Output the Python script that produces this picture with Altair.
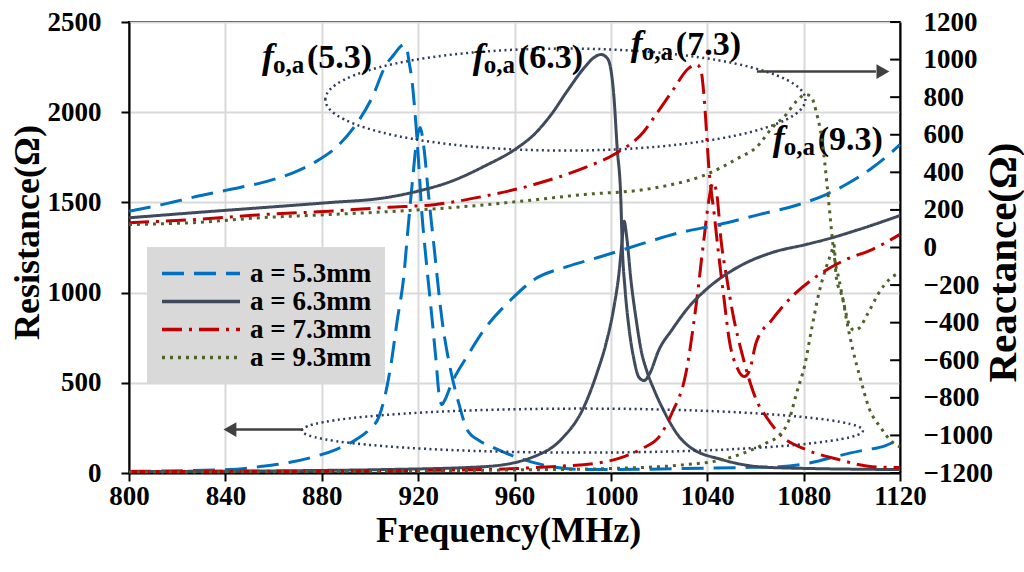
import altair as alt
import pandas as pd

# ---------------- data ----------------
series = ["a = 5.3mm", "a = 6.3mm", "a = 7.3mm", "a = 9.3mm"]
colors = ["#0070C0", "#3F4A5C", "#C00000", "#4F6228"]
dashes = [[22, 10], [1, 0], [20, 7, 3, 7], [3, 5]]

x_ticks = [800, 840, 880, 920, 960, 1000, 1040, 1080, 1120]
r_ticks = [0, 500, 1000, 1500, 2000, 2500]
x_ticks_right = [-1200, -1000, -800, -600, -400, -200, 0, 200, 400, 600, 800, 1000, 1200]

# Resistance curves
f_r_53 = [800, 841.5, 855.2, 866.4, 877.6, 885.9, 894.2, 899.6, 903.8, 905.9, 908.6, 911.2, 914.2, 915.4,
          917.5, 919.6, 920.8, 922.5, 924.1, 926.6, 929.9, 933.7, 937, 940.3, 945.3, 950.3, 961.1, 975.2,
          988.9, 1000.5, 1028, 1053, 1070, 1083.5, 1094.7, 1104, 1114, 1120]
r_53 = [9, 19, 37, 58, 93, 130, 185, 240, 314, 407, 591, 834, 1111, 1294,
        1598, 1859, 1915, 1792, 1571, 1255, 850, 557, 380, 241, 180, 147, 86, 36,
        19, 19, 24, 30, 35, 58, 96, 124, 152, 190]

f_r_63 = [800, 870.6, 905.9, 947.4, 968.1, 979.3, 988.9, 994.3, 998.4, 1001.3, 1003.4, 1004.7, 1005.5,
          1006.7, 1008.3, 1010.5, 1012.5, 1015, 1017.9, 1022.1, 1028.3, 1032.5, 1046.2, 1066.9, 1120]
r_63 = [8, 13, 19, 35, 91, 185, 369, 557, 739, 922, 1111, 1294, 1395,
        1294, 1072, 850, 684, 562, 462, 341, 202, 147, 74, 30, 19]

f_r_73 = [800, 905.9, 947.4, 975.2, 995.9, 1005.5, 1013.8, 1020, 1025.4, 1031.2, 1035.3, 1038.6, 1040.7,
          1042.4, 1044, 1045.7, 1048.2, 1051.1, 1054, 1057.4, 1060.3, 1064.4, 1071.1, 1081, 1094.7, 1108.4, 1120]
r_73 = [8, 13, 19, 35, 58, 91, 141, 200, 334, 557, 923, 1294, 1515,
        1610, 1543, 1294, 1072, 850, 684, 518, 407, 313, 202, 130, 74, 35, 30]

f_r_93 = [800, 900, 960, 1000, 1030, 1045, 1055, 1065, 1070, 1074, 1077, 1080.5, 1083.5, 1086.4, 1089.5,
          1091.5, 1092.6, 1093.5, 1096.3, 1097.8, 1100.4, 1103.3, 1107.4, 1111.6, 1117, 1120]
r_93 = [5, 10, 17, 25, 45, 70, 110, 170, 210, 296, 440, 600, 811, 1000, 1146,
        1222, 1266, 1090, 961, 850, 684, 536, 351, 259, 169, 145]

# Reactance curves
f_x_53 = [800, 813.7, 827.8, 841.5, 855.2, 869.3, 877.6, 885.9, 894.2, 900.9, 906.7, 910, 912.5, 914.2,
          915.4, 916.2, 917.5, 918.3, 919.1, 920.4, 921.6, 922.9, 925.4, 927.4, 928.7, 929.9, 931.2, 933.7,
          940.3, 947.4, 958.6, 968.1, 981.8, 996, 1011.7, 1028.3, 1044.9, 1061.5, 1078.1, 1089.3, 1097.6,
          1108.5, 1116.8, 1120]
x_53 = [193, 228, 271, 308, 345, 404, 457, 532, 654, 798, 973, 1027, 1068, 1080,
        1054, 990, 883, 777, 654, 415, 175, -11, -331, -597, -783, -836, -809, -729,
        -580, -437, -277, -171, -102, -48, 15, 78, 122, 175, 229, 282, 335,
        424, 510, 547]

f_x_63 = [800, 827.8, 855.2, 883, 905.9, 919.6, 933.7, 947.4, 961.1, 968.1, 975.2, 981.8, 988.9, 993,
          995.9, 998.4, 1000, 1001.3, 1002.6, 1004.1, 1004.7, 1005.9, 1007.6, 1009.6, 1011.7, 1013.8,
          1015.9, 1020, 1025.4, 1032.5, 1039.5, 1053.2, 1066.9, 1081, 1089.3, 1103, 1120]
x_63 = [158, 186, 212, 239, 264, 299, 352, 432, 530, 601, 707, 831, 956, 1011,
        1027, 1009, 947, 797, 532, 266, 16, -224, -437, -597, -692, -708,
        -676, -543, -437, -314, -224, -101, -27, 16, 43, 96, 170]

f_x_73 = [800, 827.8, 855.2, 883, 907.9, 926.6, 947.4, 968.1, 988.9, 1001.3, 1013.8, 1018.7, 1025.4,
          1032.5, 1035.8, 1037.5, 1038.7, 1040.8, 1042.9, 1044.5, 1047, 1049.1, 1052.4, 1055.3, 1057.4,
          1060.3, 1066.9, 1075.2, 1085.2, 1097.6, 1108.4, 1120]
x_73 = [132, 149, 175, 193, 214, 228, 273, 335, 424, 495, 619, 707, 831,
        956, 973, 936, 798, 404, 176, -11, -277, -490, -639, -687, -660,
        -506, -384, -261, -155, -64, -11, 70]

f_x_93 = [800, 827.8, 855.2, 883, 907.9, 933.7, 961.1, 988.9, 1013.8, 1025.4, 1039.5, 1053.2, 1060.3,
          1067, 1072.7, 1076.9, 1081, 1083.1, 1085.2, 1087.7, 1089.8, 1091.4, 1092.6, 1094.7, 1096.8,
          1098.9, 1101, 1103, 1106.4, 1111.3, 1115.5, 1120]
x_93 = [122, 133, 159, 175, 191, 212, 244, 282, 308, 335, 388, 478, 532,
        638, 707, 777, 814, 803, 724, 564, 325, 112, -37, -171, -304,
        -410, -440, -430, -357, -240, -171, -133]

# Annotations (data coordinates: frequency, resistance)
ann_freq = [855.2, 942.7, 1008.3, 1067.2]
ann_res = [2247, 2247, 2319, 1792]
ann_main = ["(5.3)", "(6.3)", "(7.3)", "(9.3)"]

ell_freq = [981.1, 988.2]
ell_res = [2070, 235]

arrow_start = [1060.6, 872.2]
arrow_end = [1110.0, 844.0]
arrow_res = [2225, 240.6]
head_freq = [1112.9, 841.9]
head_shape = ["triangle-right", "triangle-left"]

# ---------------- tables ----------------
def long_table(curves):
    rows = []
    for name, fs, vs in curves:
        for f, v in zip(fs, vs):
            rows.append({"series": name, "freq": f, "val": v})
    return pd.DataFrame(rows)

df_r = long_table([(series[0], f_r_53, r_53), (series[1], f_r_63, r_63),
                   (series[2], f_r_73, r_73), (series[3], f_r_93, r_93)])
df_x = long_table([(series[0], f_x_53, x_53), (series[1], f_x_63, x_63),
                   (series[2], f_x_73, x_73), (series[3], f_x_93, x_93)])
df_ann = pd.DataFrame({"freq": ann_freq, "val": ann_res, "main": ann_main,
                       "f": ["f"] * 4, "sub": ["o,a"] * 4})
df_arrow = pd.DataFrame({"freq": arrow_start, "f1": arrow_end, "val": arrow_res})
df_head = pd.DataFrame({"freq": head_freq, "val": arrow_res, "shape": head_shape})
df_rt = pd.DataFrame({"val": x_ticks_right, "freq": [1115.9] * len(x_ticks_right),
                      "f1": [1120] * len(x_ticks_right)})
df_ell_top = pd.DataFrame({"freq": [ell_freq[0]], "val": [ell_res[0]]})
df_ell_bot = pd.DataFrame({"freq": [ell_freq[1]], "val": [ell_res[1]]})

FONT = "Liberation Serif"
xscale = alt.Scale(domain=[800, 1120], nice=False, zero=False)
rscale = alt.Scale(domain=[0, 2500], nice=False, zero=False)
xrscale = alt.Scale(domain=[-1200, 1200], nice=False, zero=False)

lab = dict(labelFont=FONT, labelFontWeight="bold", labelFontSize=27, labelColor="black",
           titleFont=FONT, titleFontWeight="bold", titleColor="black",
           domainColor="black", domainWidth=2, tickColor="black", tickWidth=2, format="d")

x_axis = alt.Axis(values=x_ticks, title="Frequency(MHz)", tickSize=8, labelPadding=2,
                  grid=True, gridColor="#D9D9D9", gridWidth=2, titleX=379, titleY=68, titleFontSize=36,
                  titleBaseline="alphabetic", titleAlign="center", labelFlush=False, **lab)
r_axis = alt.Axis(values=r_ticks, title="Resistance(Ω)", orient="left", tickSize=8, labelPadding=20,
                  grid=True, gridColor="#D9D9D9", gridWidth=2, titleAngle=270, titleX=-102, titleY=210,
                  titleFontSize=36, titleBaseline="middle", titleAlign="center", labelFlush=False, **lab)
xr_axis = alt.Axis(values=x_ticks_right, title="Reactance(Ω)", orient="right", ticks=False, tickSize=0,
                   labelPadding=23, labelAlign="left", grid=False, titleAngle=270, titleX=103, titleY=240,
                   titleFontSize=41, titleBaseline="middle", titleAlign="center", labelFlush=False, **lab)

legend = alt.Legend(title=None, orient="none", legendX=18, legendY=225, fillColor="#D9D9D9",
                    padding=13, symbolType="stroke", symbolSize=6084, symbolStrokeWidth=3.5,
                    clipHeight=27, rowPadding=0, labelOffset=8, labelFont=FONT,
                    labelFontWeight="bold", labelFontSize=27, labelColor="black", labelLimit=300)

color_enc = alt.Color("series:N", scale=alt.Scale(domain=series, range=colors), legend=legend)
dash_enc = alt.StrokeDash("series:N", scale=alt.Scale(domain=series, range=dashes), legend=legend)

X = alt.X("freq:Q", scale=xscale, axis=x_axis)
YR = alt.Y("val:Q", scale=rscale, axis=r_axis)
YX = alt.Y("val:Q", scale=xrscale, axis=xr_axis)

res_lines = alt.Chart(df_r).mark_line(strokeWidth=3, interpolate="monotone").encode(
    x=X, y=YR, color=color_enc, strokeDash=dash_enc)

# ellipse shapes (unit paths, scaled by size)
def ellipse_path(r):
    k = 0.5523
    return (f"M -1 0 C -1 {-k*r:.4f} {-k:.4f} {-r:.4f} 0 {-r:.4f} "
            f"C {k:.4f} {-r:.4f} 1 {-k*r:.4f} 1 0 "
            f"C 1 {k*r:.4f} {k:.4f} {r:.4f} 0 {r:.4f} "
            f"C {-k:.4f} {r:.4f} -1 {k*r:.4f} -1 0 Z")

ell_style = dict(filled=False, stroke="#2E3B5E", strokeWidth=2.5, strokeDash=[2, 3.5], opacity=1)
ell_top = alt.Chart(df_ell_top).mark_point(
    shape=ellipse_path(51 / 240), size=(2 * 240) ** 2, **ell_style).encode(x=X, y=YR)
ell_bot = alt.Chart(df_ell_bot).mark_point(
    shape=ellipse_path(22 / 280.5), size=(2 * 280.5) ** 2, **ell_style).encode(x=X, y=YR)

arrows = alt.Chart(df_arrow).mark_rule(color="#404040", strokeWidth=2.5).encode(
    x=X, x2="f1:Q", y=YR)
heads = alt.Chart(df_head).mark_point(filled=True, color="#404040", size=220, opacity=1).encode(
    x=X, y=YR, shape=alt.Shape("shape:N", scale=None))

txt_f = alt.Chart(df_ann).mark_text(font=FONT, fontSize=36, fontWeight="bold", fontStyle="italic",
                                    align="left", baseline="alphabetic", color="black").encode(
    x=X, y=YR, text="f:N")
txt_sub = alt.Chart(df_ann).mark_text(font=FONT, fontSize=25, fontWeight="bold", align="left",
                                      baseline="alphabetic", color="black", dx=11, dy=5).encode(
    x=X, y=YR, text="sub:N")
txt_main = alt.Chart(df_ann).mark_text(font=FONT, fontSize=34, fontWeight="bold", align="left",
                                       baseline="alphabetic", color="black", dx=45).encode(
    x=X, y=YR, text="main:N")

left_group = alt.layer(res_lines, ell_top, ell_bot, arrows, heads, txt_f, txt_sub, txt_main)

react_lines = alt.Chart(df_x).mark_line(strokeWidth=3, interpolate="monotone").encode(
    x=X, y=YX, color=color_enc, strokeDash=dash_enc)
right_ticks = alt.Chart(df_rt).mark_rule(color="black", strokeWidth=2).encode(
    x=X, x2="f1:Q", y=YX)

right_group = alt.layer(react_lines, right_ticks)

chart = alt.layer(left_group, right_group).resolve_scale(y="independent").properties(
    width=771, height=451,
    autosize=alt.AutoSizeParams(type="none"),
    padding={"left": 129, "top": 22, "right": 124, "bottom": 99},
    background="white",
).configure_view(stroke="black", strokeWidth=2)

chart.save("out.html", embed_options={"renderer": "svg", "actions": False})
